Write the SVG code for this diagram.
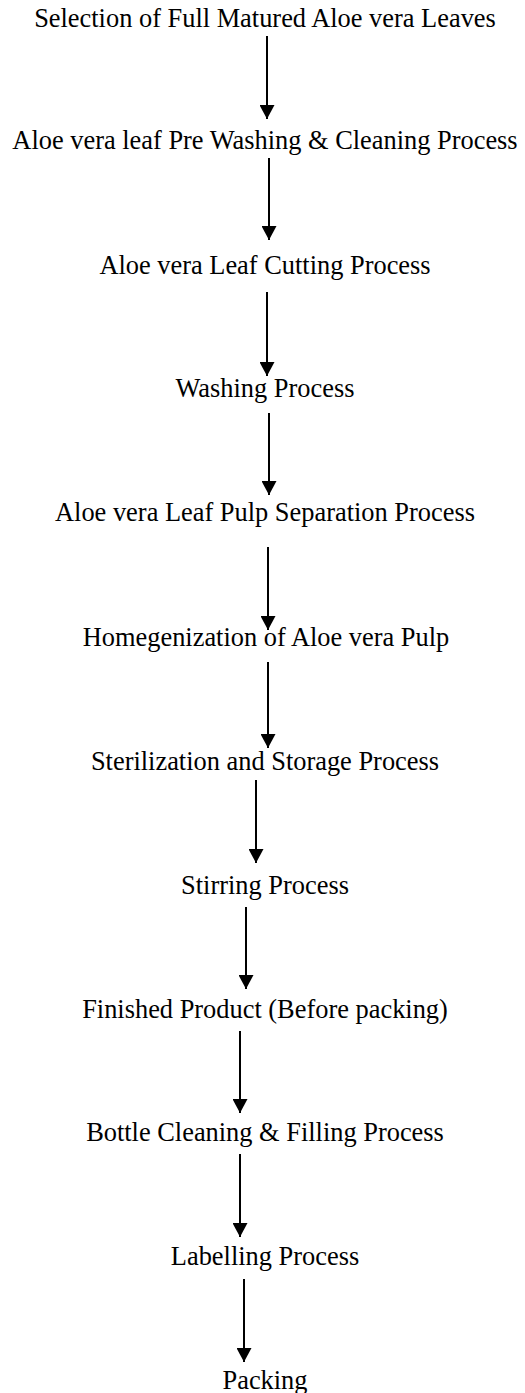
<svg xmlns="http://www.w3.org/2000/svg" width="525" height="1393" viewBox="0 0 525 1393">
<style>
text{font-family:"Liberation Serif","Times New Roman",serif;font-size:26.4px;fill:#000;text-anchor:middle}
.c line{stroke:#000;stroke-width:2;marker-end:url(#ah)}
</style>
<defs>
<marker id="ah" markerUnits="userSpaceOnUse" markerWidth="15" markerHeight="15" refX="14" refY="7.5" orient="auto" viewBox="0 0 14 15">
<path d="M0,0 L14,7.5 L0,15 z" fill="#000"/>
</marker>
</defs>
<rect width="525" height="1393" fill="#fff"/>
<g id="n1"><text x="265" y="27">Selection of Full Matured Aloe vera Leaves</text></g>
<g id="n2"><text x="265" y="149">Aloe vera leaf Pre Washing &amp; Cleaning Process</text></g>
<g id="n3"><text x="265" y="274">Aloe vera Leaf Cutting Process</text></g>
<g id="n4"><text x="265" y="397">Washing Process</text></g>
<g id="n5"><text x="265" y="521">Aloe vera Leaf Pulp Separation Process</text></g>
<g id="n6"><text x="266" y="646">Homegenization of Aloe vera Pulp</text></g>
<g id="n7"><text x="265" y="770">Sterilization and Storage Process</text></g>
<g id="n8"><text x="265" y="894">Stirring Process</text></g>
<g id="n9"><text x="265" y="1018">Finished Product (Before packing)</text></g>
<g id="n10"><text x="265" y="1141">Bottle Cleaning &amp; Filling Process</text></g>
<g id="n11"><text x="265" y="1265">Labelling Process</text></g>
<g id="n12"><text x="265" y="1389">Packing</text></g>
<g id="connectors" class="c">
<line x1="267" y1="36" x2="267" y2="119"/>
<line x1="269" y1="158" x2="269" y2="240"/>
<line x1="267" y1="292" x2="267" y2="376"/>
<line x1="269" y1="413" x2="269" y2="495"/>
<line x1="268" y1="547" x2="268" y2="630"/>
<line x1="268" y1="662" x2="268" y2="748"/>
<line x1="256" y1="780" x2="256" y2="863"/>
<line x1="246" y1="907" x2="246" y2="989"/>
<line x1="240" y1="1031" x2="240" y2="1113"/>
<line x1="240" y1="1154" x2="240" y2="1237"/>
<line x1="244" y1="1279" x2="244" y2="1362"/>
</g>
</svg>
